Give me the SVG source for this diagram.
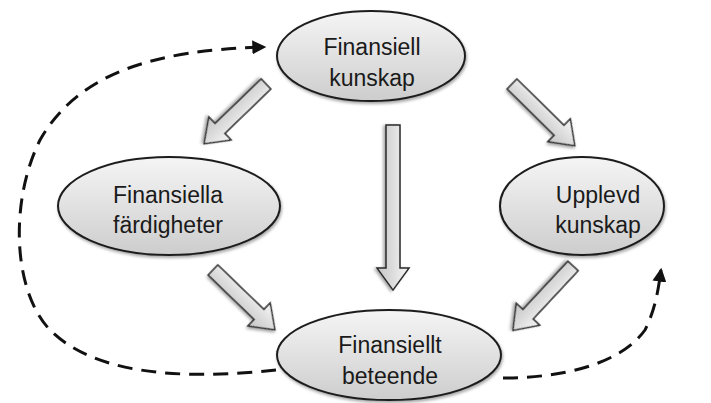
<svg xmlns="http://www.w3.org/2000/svg" width="711" height="403" viewBox="0 0 711 403">
<defs>
<linearGradient id="eg" x1="0" y1="0" x2="0" y2="1">
<stop offset="0" stop-color="#f5f5f5"/>
<stop offset="1" stop-color="#cdcdcd"/>
</linearGradient>
<linearGradient id="ag" x1="0" y1="0" x2="0" y2="1">
<stop offset="0" stop-color="#f6f6f6"/>
<stop offset="1" stop-color="#c4c4c4"/>
</linearGradient>
<filter id="sh" x="-20%" y="-20%" width="140%" height="140%">
<feDropShadow dx="1" dy="2" stdDeviation="1.5" flood-color="#000" flood-opacity="0.35"/>
</filter>
<marker id="ah" viewBox="0 0 12 12" refX="10" refY="6" markerWidth="14" markerHeight="14" markerUnits="userSpaceOnUse" orient="auto">
<path d="M0,0 L12,6 L0,12 Z" fill="#111"/>
</marker>
<style>
.node ellipse{fill:url(#eg);stroke:#1e1e1e;stroke-width:2;filter:url(#sh)}
.node text{font-family:"Liberation Sans",Arial,sans-serif;font-size:23px;fill:#1a1a1a;text-anchor:middle}
.blk{fill:url(#ag);stroke:#2a2a2a;stroke-width:1.5;stroke-linejoin:miter;filter:url(#sh)}
.dash{fill:none;stroke:#111;stroke-width:3;stroke-dasharray:15 9;marker-end:url(#ah)}
</style>
</defs>
<rect width="711" height="403" fill="#fff"/>
<g id="connectors">
<path class="blk" transform="translate(266,84) rotate(136)" d="M0,-7 L64,-7 L64,-16 L86,0 L64,16 L64,7 L0,7 Z"/>
<path class="blk" transform="translate(512,84) rotate(44.5)" d="M0,-7 L66,-7 L66,-16 L88,0 L66,16 L66,7 L0,7 Z"/>
<path class="blk" transform="translate(393,125) rotate(90)" d="M0,-7 L143,-7 L143,-16 L165,0 L143,16 L143,7 L0,7 Z"/>
<path class="blk" transform="translate(213,270) rotate(44)" d="M0,-7 L64,-7 L64,-16 L86,0 L64,16 L64,7 L0,7 Z"/>
<path class="blk" transform="translate(573,266) rotate(133)" d="M0,-7 L66,-7 L66,-16 L88,0 L66,16 L66,7 L0,7 Z"/>
<path class="dash" d="M276,370 C200,378 100,380 50,330 C12,290 10,200 40,140 C80,70 160,50 264,47"/>
<path class="dash" d="M503,378 C560,378 620,365 645,330 C655,310 658,292 661,270"/>
</g>
<g id="n-kunskap" class="node">
<ellipse cx="371" cy="56" rx="94" ry="45"/>
<text x="372" y="55">Finansiell</text>
<text x="372" y="86">kunskap</text>
</g>
<g id="n-fardigheter" class="node">
<ellipse cx="169" cy="206" rx="111" ry="49"/>
<text x="168" y="203">Finansiella</text>
<text x="168" y="233">färdigheter</text>
</g>
<g id="n-upplevd" class="node">
<ellipse cx="582" cy="206" rx="82" ry="49"/>
<text x="598" y="203">Upplevd</text>
<text x="598" y="233">kunskap</text>
</g>
<g id="n-beteende" class="node">
<ellipse cx="389" cy="355" rx="112" ry="45"/>
<text x="390" y="353">Finansiellt</text>
<text x="390" y="384">beteende</text>
</g>
</svg>
